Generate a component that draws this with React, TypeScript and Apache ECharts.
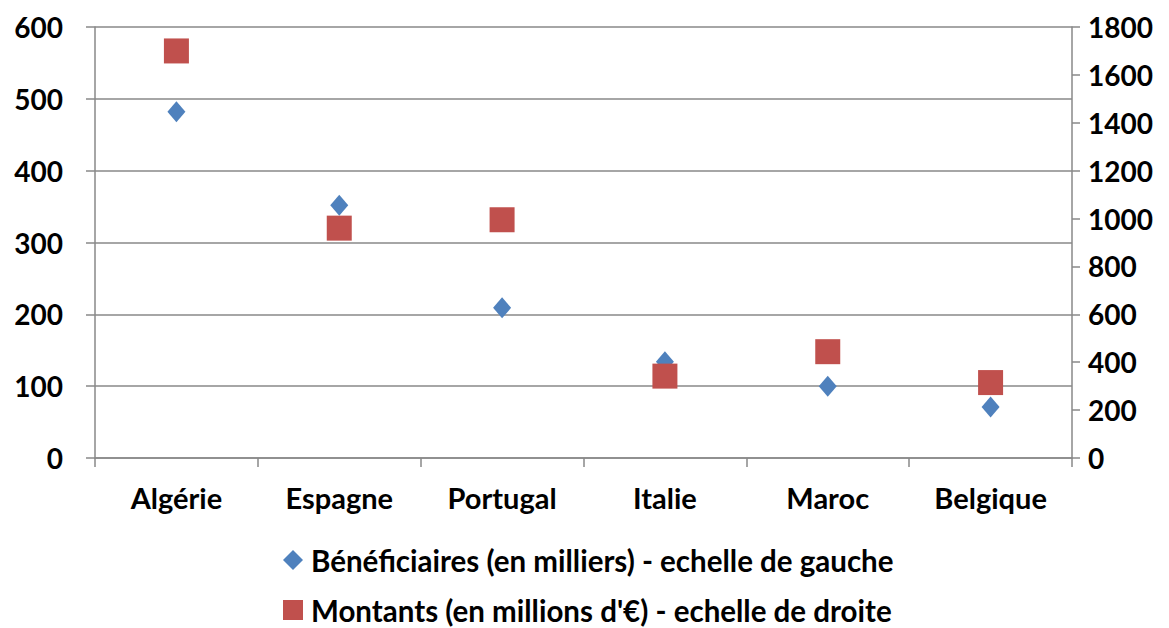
import React, { useEffect, useRef } from "react";
import * as echarts from "echarts";

const categories = ["Algérie", "Espagne", "Portugal", "Italie", "Maroc", "Belgique"];
const beneficiaires = [482, 352, 209, 134, 100, 71];
const montants = [1700, 960, 995, 342, 444, 315];
const seriesNames = [
  "Bénéficiaires (en milliers) - echelle de gauche",
  "Montants (en millions d'€) - echelle de droite",
];

const FONT = "Lato";
const GRAY = "#898989";

export default function App() {
  const ref = useRef<HTMLDivElement>(null);
  useEffect(() => {
    document.body.style.margin = "0";
    const chart = echarts.init(ref.current!, null, { renderer: "svg" });
    chart.setOption({
      animation: false,
      backgroundColor: "#ffffff",
      textStyle: { fontFamily: FONT },
      grid: { left: 95, right: 97, top: 27, bottom: 170, containLabel: false },
      legend: {
        orient: "vertical",
        left: 283,
        top: 545,
        height: 100,
        itemWidth: 20,
        itemHeight: 20,
        itemGap: 20,
        padding: 0,
        textStyle: { fontFamily: FONT, fontWeight: "bold", fontSize: 29.5, lineHeight: 29, color: "#000", padding: [0, 0, 0, 3] },
        data: [
          { name: seriesNames[0], icon: "diamond" },
          { name: seriesNames[1], icon: "rect" },
        ],
      },
      xAxis: {
        type: "category",
        data: categories,
        boundaryGap: true,
        axisLine: { lineStyle: { color: GRAY, width: 1.5 } },
        axisTick: { show: true, length: 9, lineStyle: { color: GRAY, width: 1.5 } },
        axisLabel: { margin: 25, color: "#000", fontFamily: FONT, fontWeight: "bold", fontSize: 29 },
      },
      yAxis: [
        {
          type: "value",
          min: 0,
          max: 600,
          interval: 100,
          position: "left",
          axisLine: { show: true, lineStyle: { color: GRAY, width: 1.5 } },
          axisTick: { show: true, length: 9, lineStyle: { color: GRAY, width: 1.5 } },
          axisLabel: { margin: 32, color: "#000", fontFamily: FONT, fontWeight: "bold", fontSize: 28 },
          splitLine: { show: true, lineStyle: { color: GRAY, width: 1.5 } },
        },
        {
          type: "value",
          min: 0,
          max: 1800,
          interval: 200,
          position: "right",
          axisLine: { show: true, lineStyle: { color: GRAY, width: 1.5 } },
          axisTick: { show: true, length: 8, lineStyle: { color: GRAY, width: 1.5 } },
          axisLabel: {
            margin: 16,
            color: "#000",
            fontFamily: FONT,
            fontWeight: "bold",
            fontSize: 28,
            formatter: (v: number) => String(v),
          },
          splitLine: { show: false },
        },
      ],
      series: [
        {
          name: seriesNames[0],
          type: "scatter",
          yAxisIndex: 0,
          data: beneficiaires,
          symbol: "diamond",
          symbolSize: [18, 21],
          itemStyle: { color: "#4f81bd", opacity: 1 },
          z: 2,
        },
        {
          name: seriesNames[1],
          type: "scatter",
          yAxisIndex: 1,
          data: montants,
          symbol: "rect",
          symbolSize: 25,
          itemStyle: { color: "#c0504d", opacity: 1 },
          z: 3,
        },
      ],
    });
    return () => chart.dispose();
  }, []);
  return <div ref={ref} style={{ width: 1169, height: 628 }} />;
}
